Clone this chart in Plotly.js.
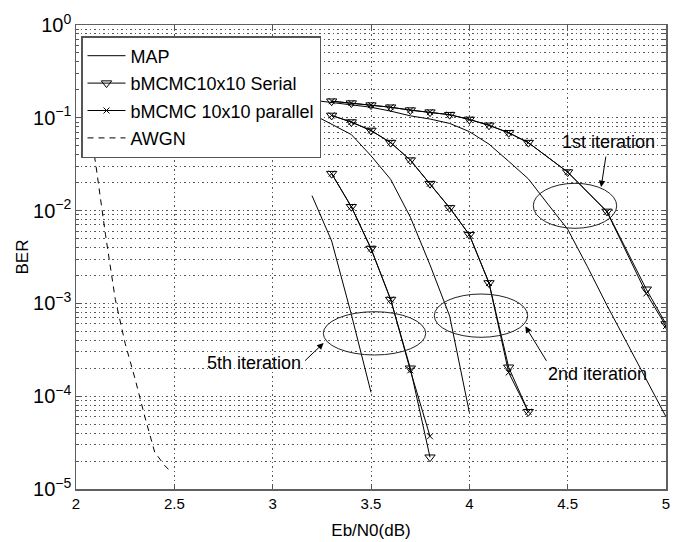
<!DOCTYPE html>
<html><head><meta charset="utf-8">
<script src="https://cdn.plot.ly/plotly-3.0.1.min.js"></script>
<style>html,body{margin:0;padding:0;background:#fff}#chart{width:683px;height:542px}</style>
</head><body><div id="chart"></div>
<script>
// ---- data ----
const snr1 = [3.3,3.4,3.5,3.6,3.7,3.8,3.9,4.0,4.1,4.2,4.3,4.5,4.7,4.9,5.0];
const serial1 = [0.151,0.144,0.137,0.130,0.121,0.115,0.108,0.096,0.083,0.069,0.054,0.026,0.0098,0.00142,0.00060];
const parallel1 = [0.151,0.144,0.137,0.130,0.121,0.115,0.108,0.096,0.083,0.069,0.054,0.026,0.0097,0.00128,0.00057];

const snr2 = [3.3,3.4,3.5,3.6,3.7,3.8,3.9,4.0,4.1,4.2,4.3];
const serial2 = [0.106,0.090,0.073,0.054,0.035,0.0195,0.0107,0.0055,0.00166,0.000205,0.000068];
const parallel2 = [0.106,0.090,0.073,0.054,0.035,0.0195,0.0107,0.0055,0.00166,0.000180,0.000068];

const snr5 = [3.3,3.4,3.5,3.6,3.7,3.8];
const serial5 = [0.025,0.011,0.0039,0.0011,0.000200,0.000022];
const parallel5 = [0.025,0.011,0.0039,0.0011,0.000190,0.000037];

const snrMap1 = [3.2,3.3,3.5,3.6,3.7,3.8,3.9,4.0,4.1,4.2,4.3,4.4,4.5,4.6,4.7,4.8,4.9,5.0];
const map1 = [0.155,0.146,0.130,0.118,0.105,0.097,0.087,0.071,0.052,0.034,0.022,0.0117,0.0063,0.0025,0.00095,0.00038,0.00015,0.00006];
const snrMap2 = [3.2,3.3,3.4,3.5,3.6,3.7,3.8,3.9,4.0];
const map2 = [0.11,0.085,0.066,0.039,0.0217,0.0085,0.0026,0.00073,0.000067];
const snrMap5 = [3.2,3.3,3.4,3.5];
const map5 = [0.0145,0.0047,0.00076,0.00011];

const snrAwgn = [2.05,2.1,2.15,2.2,2.25,2.3,2.35,2.4,2.45,2.48];
const awgn = [0.15,0.032,0.0055,0.0011,0.00037,0.000155,0.00006,0.000025,0.000018,0.0000155];

const legendNames = ['MAP','bMCMC10x10 Serial','bMCMC 10x10 parallel','AWGN'];
const xTicks = [2,2.5,3,3.5,4,4.5,5];
const iterLabels = ['1st iteration','2nd iteration','5th iteration'];

// ---- traces ----
const FONT = 'Liberation Sans, Arial, Helvetica, sans-serif';
const lineStyle = {color:'#000', width:1};
function mapTrace(x,y,show){return {x:x,y:y,mode:'lines',name:legendNames[0],legendgroup:'g0',showlegend:show,line:lineStyle};}
function serTrace(x,y,show){return {x:x,y:y,mode:'lines+markers',name:legendNames[1],legendgroup:'g1',showlegend:show,line:lineStyle,
  marker:{symbol:'triangle-down-open',size:9,color:'#000',line:{width:1,color:'#000'}}};}
function parTrace(x,y,show){return {x:x,y:y,mode:'lines+markers',name:legendNames[2],legendgroup:'g2',showlegend:show,line:lineStyle,
  marker:{symbol:'x-thin-open',size:6,color:'#000',line:{width:1,color:'#000'}}};}

const traces = [
  mapTrace(snrMap1,map1,true), mapTrace(snrMap2,map2,false), mapTrace(snrMap5,map5,false),
  serTrace(snr1,serial1,true), serTrace(snr2,serial2,false), serTrace(snr5,serial5,false),
  parTrace(snr1,parallel1,true), parTrace(snr2,parallel2,false), parTrace(snr5,parallel5,false),
  {x:snrAwgn,y:awgn,mode:'lines',name:legendNames[3],legendgroup:'g3',line:{color:'#000',width:1,dash:'6px,5px'}}
];

// ---- layout ----
const L=76, R=17, T=25, B=53, W=683, H=542;
const pw=W-L-R, ph=H-T-B;
const px=v=>(v-L)/pw, py=v=>1-(v-T)/ph;
function ellipse(x0,x1,y0,y1){return {type:'circle',xref:'paper',yref:'paper',x0:px(x0),x1:px(x1),y0:py(y1),y1:py(y0),line:{color:'#222',width:1}};}

const gridCol='#555';
const gridDash='1.5px,3px';
const arrowBase={text:'',xref:'x',yref:'y',showarrow:true,arrowhead:2,arrowsize:1.3,arrowwidth:1,arrowcolor:'#000',standoff:0,startstandoff:0};
const layout = {
  width:W, height:H,
  margin:{l:L,r:R,t:T,b:B},
  paper_bgcolor:'#fff', plot_bgcolor:'#fff',
  font:{family:FONT,color:'#000',size:15},
  showlegend:true,
  legend:{x:px(81),y:py(36),xanchor:'left',yanchor:'top',bgcolor:'#fff',bordercolor:'#555',borderwidth:1.5,
    font:{family:FONT,size:18,color:'#000'},tracegroupgap:1,traceorder:'grouped',itemwidth:38},
  xaxis:{range:[2,5],tickmode:'array',tickvals:xTicks,ticktext:xTicks.map(String),ticks:'inside',ticklen:5,
    tickcolor:'#555',showline:true,linecolor:'#606060',linewidth:1.5,mirror:'allticks',zeroline:false,
    showgrid:true,gridcolor:gridCol,griddash:gridDash,gridwidth:1,tickfont:{size:15},
    title:{text:'Eb/N0(dB)',font:{size:17},standoff:13}},
  yaxis:{type:'log',range:[-5,0],dtick:1,exponentformat:'power',labelalias:{'1':'10<sup>0</sup>'},
    ticks:'inside',ticklen:5,tickcolor:'#555',showline:true,linecolor:'#606060',linewidth:1.5,mirror:'allticks',zeroline:false,
    showgrid:true,gridcolor:gridCol,griddash:gridDash,gridwidth:1,tickfont:{size:16},
    minor:{dtick:'D1',ticks:'inside',ticklen:3,tickcolor:'#555',showgrid:true,gridcolor:gridCol,griddash:gridDash,gridwidth:1},
    title:{text:'BER',font:{size:17},standoff:0}},
  shapes:[ ellipse(533.3,616.7,183.3,228.3), ellipse(434.3,527.7,294,337.3), ellipse(323.3,425.7,311.7,355) ],
  annotations:[
    {text:iterLabels[0],xref:'x',yref:'y',x:4.709,y:-1.262,showarrow:false,font:{size:18}},
    {text:iterLabels[1],xref:'x',yref:'y',x:4.651,y:-3.765,showarrow:false,font:{size:18}},
    {text:iterLabels[2],xref:'x',yref:'y',x:2.906,y:-3.646,showarrow:false,font:{size:18}},
    Object.assign({x:4.670,y:-1.747,ax:5,ay:-32},arrowBase),
    Object.assign({x:4.285,y:-3.247,ax:22,ay:36},arrowBase),
    Object.assign({x:3.259,y:-3.427,ax:-20,ay:19},arrowBase)
  ]
};

Plotly.newPlot('chart',traces,layout,{staticPlot:true,displayModeBar:false});
</script>
</body></html>
